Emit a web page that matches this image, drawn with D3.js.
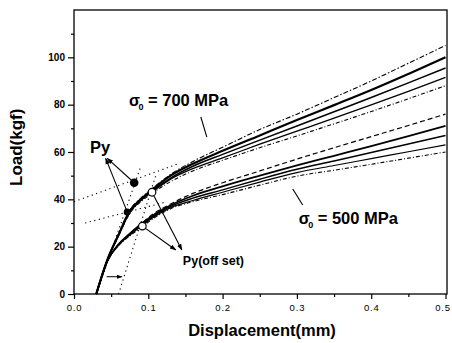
<!DOCTYPE html>
<html>
<head>
<meta charset="utf-8">
<script src="https://cdn.jsdelivr.net/npm/d3@7"></script>
<style>
  html, body { margin: 0; padding: 0; background: #fff; }
  svg { display: block; font-family: "Liberation Sans", Arial, sans-serif; }
</style>
</head>
<body>
<div id="container"></div>
<script>
"use strict";

// Displacement (mm) sampled along every curve.
const dispGrid = [0.03, 0.045, 0.06, 0.075, 0.09, 0.105, 0.13, 0.16, 0.2, 0.25, 0.3, 0.35, 0.4, 0.45, 0.5];

// sigma0 = 700 MPa, load (kgf), top to bottom at the right edge.
const load700a = [0, 14.5, 25.5, 35.5, 40.5, 44.5, 50.5, 56, 62, 69.5, 76, 83, 90, 97.5, 105];
const load700b = [0, 14.5, 25, 35, 40, 44, 50, 55, 60.5, 67, 73.5, 79.8, 86.2, 93, 100];
const load700c = [0, 14.5, 25, 35, 40, 43.5, 49, 54, 59, 65, 71, 77, 83, 89.2, 95.5];
const load700d = [0, 14.5, 25, 34.5, 39.5, 43, 48.5, 53, 57.5, 63.3, 68.8, 74.3, 79.9, 85.6, 91.5];
const load700e = [0, 14.5, 24.5, 34, 39, 42.5, 47.5, 52, 56.5, 61.8, 66.8, 71.9, 77.1, 82.5, 88];

// sigma0 = 500 MPa.
const load500a = [0, 14, 21, 25.5, 29.5, 33.5, 38, 42.5, 47, 52, 57, 61.8, 66.5, 71.2, 76];
const load500b = [0, 14, 21, 25.5, 29.5, 33, 37.5, 41.5, 45.5, 50, 54.3, 58.4, 62.5, 66.7, 71];
const load500c = [0, 14, 21, 25, 29, 32.5, 37, 40.5, 44, 48.5, 52.7, 56.2, 59.8, 63.4, 67];
const load500d = [0, 14, 20.5, 25, 28.5, 32, 36.5, 39.5, 43, 47.3, 51.3, 54.3, 57.2, 60.1, 63];
const load500e = [0, 14, 20.5, 24.5, 28, 31.5, 36, 39, 42, 46, 49.8, 52.3, 54.8, 57.4, 60];

// Dotted construction lines [disp, load].
const tangent700 = [[0.0, 39], [0.14, 55]];
const tangent500 = [[0.015, 30], [0.125, 39]];
const elasticLine = [[0.03, 0], [0.09, 54]];
const offsetLine = [[0.06, 0], [0.11, 50]];
const offsetArrow = [[0.044, 7.3], [0.0645, 7.3]];

// Yield points.
const pyPoints = [[0.081, 47], [0.0716, 34.7]];
const pyOffsetPoints = [[0.105, 43], [0.092, 28.7]];

const xTicks = [0, 0.1, 0.2, 0.3, 0.4, 0.5];
const xTickLabels = ["0.0", "0.1", "0.2", "0.3", "0.4", "0.5"];
const yTicks = [0, 20, 40, 60, 80, 100];

const width = 452;
const height = 343;
const margin = { top: 10, right: 5, bottom: 49, left: 74 };

const svg = d3.select("#container").append("svg").attr("width", width).attr("height", height);

const x = d3.scaleLinear().domain([0, 0.502]).range([margin.left, width - margin.right]);
const y = d3.scaleLinear().domain([0, 120]).range([height - margin.bottom, margin.top]);

// Arrowhead used by the annotation leaders.
svg
  .append("defs")
  .append("marker")
  .attr("id", "head")
  .attr("viewBox", "0 0 10 10")
  .attr("refX", 9)
  .attr("refY", 5)
  .attr("markerWidth", 6)
  .attr("markerHeight", 6)
  .attr("orient", "auto")
  .append("path")
  .attr("d", "M0,1.5 L10,5 L0,8.5 Z")
  .attr("fill", "#000");

// Axes.
const yAxis = svg
  .append("g")
  .attr("transform", `translate(${margin.left},0)`)
  .call(d3.axisLeft(y).tickValues(yTicks).tickSize(6).tickPadding(3));
const yMinor = svg
  .append("g")
  .attr("transform", `translate(${margin.left},0)`)
  .call(d3.axisLeft(y).tickValues([10, 30, 50, 70, 90, 110]).tickSize(3).tickFormat(""));
const xAxis = svg
  .append("g")
  .attr("transform", `translate(0,${y(0)})`)
  .call(
    d3.axisBottom(x).tickValues(xTicks).tickSize(5).tickPadding(5)
      .tickFormat((d, i) => xTickLabels[i])
  );
const xMinor = svg
  .append("g")
  .attr("transform", `translate(0,${y(0)})`)
  .call(d3.axisBottom(x).tickValues([0.05, 0.15, 0.25, 0.35, 0.45]).tickSize(3).tickFormat(""));

for (const g of [yAxis, yMinor, xAxis, xMinor]) {
  g.select(".domain").remove();
  g.selectAll("line").attr("stroke", "#000").attr("stroke-width", 1.2);
}
yAxis.selectAll("text").style("font-size", "10px").style("font-weight", "bold").attr("fill", "#000");
xAxis
  .selectAll("text")
  .style("font-size", "9.5px")
  .style("letter-spacing", "0.8px")
  .attr("fill", "#000")
  .attr("dx", (d, i) => (i === xTicks.length - 1 ? -3 : 0)); // Keep the last label inside the page.

// Frame.
svg
  .append("rect")
  .attr("x", margin.left)
  .attr("y", margin.top)
  .attr("width", width - margin.right - margin.left)
  .attr("height", y(0) - margin.top)
  .attr("fill", "none")
  .attr("stroke", "#000")
  .attr("stroke-width", 1.3);

// Load-displacement curves.
const line = d3
  .line()
  .x((d) => x(d[0]))
  .y((d) => y(d[1]))
  .curve(d3.curveMonotoneX);

const curves = [
  { values: load700a, dash: "5,2,1.5,2", w: 1.1 },
  { values: load700b, dash: null, w: 2.2 },
  { values: load700c, dash: null, w: 1.5 },
  { values: load700d, dash: null, w: 1.3 },
  { values: load700e, dash: "4,2,1,2", w: 1.1 },
  { values: load500a, dash: "5,3", w: 1.2 },
  { values: load500b, dash: null, w: 1.8 },
  { values: load500c, dash: null, w: 1.5 },
  { values: load500d, dash: null, w: 1.2 },
  { values: load500e, dash: "4,2,1,2", w: 1.1 },
];

svg
  .append("g")
  .selectAll("path")
  .data(curves)
  .join("path")
  .attr("d", (c) => line(dispGrid.map((d, i) => [d, c.values[i]])))
  .attr("fill", "none")
  .attr("stroke", "#000")
  .attr("stroke-width", (c) => c.w)
  .attr("stroke-dasharray", (c) => c.dash);

// Dotted construction lines.
svg
  .append("g")
  .selectAll("path")
  .data([tangent700, tangent500, elasticLine, offsetLine])
  .join("path")
  .attr("d", d3.line().x((d) => x(d[0])).y((d) => y(d[1])))
  .attr("fill", "none")
  .attr("stroke", "#000")
  .attr("stroke-width", 1.1)
  .attr("stroke-dasharray", "1.2,3.5");

svg
  .append("path")
  .attr("d", d3.line().x((d) => x(d[0])).y((d) => y(d[1]))(offsetArrow))
  .attr("stroke", "#000")
  .attr("stroke-width", 1)
  .attr("marker-end", "url(#head)");

// Leader lines from the points to their labels.
function leader(from, to, head) {
  svg
    .append("line")
    .attr("x1", x(from[0]))
    .attr("y1", y(from[1]))
    .attr("x2", x(to[0]))
    .attr("y2", y(to[1]))
    .attr("stroke", "#000")
    .attr("stroke-width", 1.1)
    .attr("marker-end", head ? "url(#head)" : null);
}

leader(pyPoints[0], [0.0448, 57.3], true);
leader(pyPoints[1], [0.0426, 57.3], true);
leader(pyOffsetPoints[0], [0.1452, 18.6], true);
leader(pyOffsetPoints[1], [0.137, 18.6], true);
leader([0.1707, 74.8], [0.1788, 66.3], false);
leader([0.2944, 44.4], [0.3078, 37.6], false);

svg
  .append("g")
  .selectAll("circle")
  .data(pyPoints)
  .join("circle")
  .attr("cx", (d) => x(d[0]))
  .attr("cy", (d) => y(d[1]))
  .attr("r", (d, i) => (i === 0 ? 4.3 : 3.5))
  .attr("fill", "#000");

svg
  .append("g")
  .selectAll("circle")
  .data(pyOffsetPoints)
  .join("circle")
  .attr("cx", (d) => x(d[0]))
  .attr("cy", (d) => y(d[1]))
  .attr("r", 3.8)
  .attr("fill", "#fff")
  .attr("stroke", "#000")
  .attr("stroke-width", 1.2);

// Labels.
function sigmaLabel(pos, text) {
  const g = svg.append("g").attr("transform", `translate(${x(pos[0])},${y(pos[1])})`);
  g.append("text").attr("font-size", "16px").attr("font-weight", "bold").text("σ");
  g.append("text").attr("x", 9.5).attr("y", 4).attr("font-size", "9px").attr("font-weight", "bold").text("0");
  g.append("text").attr("x", 19).attr("font-size", "16.5px").attr("font-weight", "bold").text(text);
}
sigmaLabel([0.074, 79.4], "= 700 MPa");
sigmaLabel([0.3024, 29.6], "= 500 MPa");

svg
  .append("text")
  .attr("x", x(0.0215))
  .attr("y", y(59.6))
  .attr("font-size", "16.5px")
  .attr("font-weight", "bold")
  .text("Py");

svg
  .append("text")
  .attr("x", x(0.1465))
  .attr("y", y(12.3))
  .attr("font-size", "12.5px")
  .attr("font-weight", "bold")
  .text("Py(off set)");

svg
  .append("text")
  .attr("x", 262)
  .attr("y", 336)
  .attr("text-anchor", "middle")
  .attr("font-size", "16.5px")
  .attr("font-weight", "bold")
  .text("Displacement(mm)");

svg
  .append("text")
  .attr("transform", `translate(22,${y(62)}) rotate(-90)`)
  .attr("text-anchor", "middle")
  .attr("font-size", "17px")
  .attr("font-weight", "bold")
  .text("Load(kgf)");
</script>
</body>
</html>
